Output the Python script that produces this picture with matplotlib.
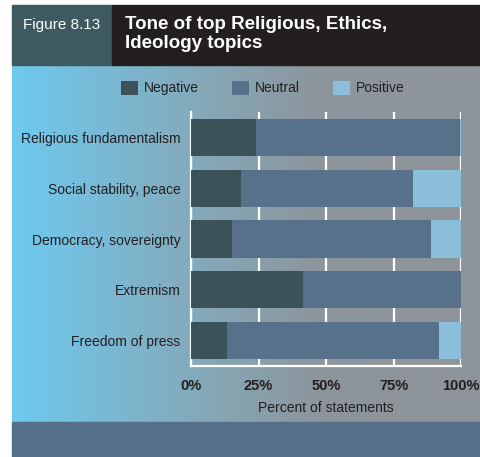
import numpy as np
import matplotlib.pyplot as plt
from matplotlib.patches import Rectangle
from matplotlib.colors import LinearSegmentedColormap

plt.rcParams['font.family'] = ['Liberation Sans', 'DejaVu Sans']

topics = ['Religious fundamentalism', 'Social stability, peace',
          'Democracy, sovereignty', 'Extremism', 'Freedom of press']
negative = [24.0, 18.5, 15.0, 41.5, 13.3]
neutral = [75.5, 63.7, 74.0, 58.5, 78.7]
positive = [0.5, 17.8, 11.0, 0.0, 8.0]
ticks = [0, 25, 50, 75, 100]
tick_labels = ['0%', '25%', '50%', '75%', '100%']

c_neg = '#3b5358'
c_neu = '#567189'
c_pos = '#8bbedb'
dark = '#231f20'

W, H = 480, 457
fig = plt.figure(figsize=(W / 100, H / 100), dpi=100)
fig.patch.set_facecolor('white')

# background panel in pixel coordinates
bg = fig.add_axes([0, 0, 1, 1], zorder=0)
bg.set_xlim(0, W)
bg.set_ylim(H, 0)
bg.axis('off')

grad = LinearSegmentedColormap.from_list(
    'panel', [(0, '#6ec9f0'), (0.4, '#85a9b9'), (0.65, '#8c969d'), (1, '#8f959a')])
bg.imshow(np.linspace(0, 1, 256)[None, :], cmap=grad, aspect='auto',
          extent=(12, W, 422, 65), zorder=0)
bg.add_patch(Rectangle((12, 422), W - 12, H - 422, color='#56708a', zorder=1))
bg.add_patch(Rectangle((12, 5), 100, 60, color='#3c5a5f', zorder=1))
bg.add_patch(Rectangle((112, 5), W - 112, 60, color=dark, zorder=1))
bg.text(23, 25, 'Figure 8.13', color='white', fontsize=11, va='center', zorder=2)
bg.text(125, 34, 'Tone of top Religious, Ethics,\nIdeology topics', color='white',
        fontsize=13.5, fontweight='bold', va='center', linespacing=1.15, zorder=2)

# stacked bar chart
ax = fig.add_axes([191 / W, 1 - 366 / H, 270 / W, 254 / H], zorder=2)
ax.patch.set_alpha(0)
y = np.arange(len(topics))
neg = np.array(negative)
neu = np.array(neutral)
pos = np.array(positive)
b1 = ax.barh(y, neg, height=0.73, color=c_neg, label='Negative', zorder=3)
b2 = ax.barh(y, neu, left=neg, height=0.73, color=c_neu, label='Neutral', zorder=3)
b3 = ax.barh(y, pos, left=neg + neu, height=0.73, color=c_pos, label='Positive', zorder=3)

ax.set_xlim(0, 100)
ax.set_ylim(len(topics) - 0.5, -0.5)
ax.set_yticks(y)
ax.set_yticklabels(topics, fontsize=10, color=dark)
ax.set_xticks(ticks)
ax.set_xticklabels(tick_labels, fontsize=10.5, fontweight='bold', color=dark)
ax.tick_params(length=0)
ax.tick_params(axis='x', pad=9)
ax.tick_params(axis='y', pad=7.5)
ax.grid(axis='x', color='white', linewidth=1.6, zorder=1)
ax.set_axisbelow(True)
for s in ['top', 'right']:
    ax.spines[s].set_visible(False)
for s in ['left', 'bottom']:
    ax.spines[s].set_color('white')
    ax.spines[s].set_linewidth(1.6)
ax.set_xlabel('Percent of statements', fontsize=10, color=dark, labelpad=6)

fig.legend(handles=[b1, b2, b3], loc='center', bbox_to_anchor=(263 / W, 1 - 88 / H),
           ncol=3, frameon=False, fontsize=10, handlelength=1.2, handleheight=1.2,
           handletextpad=0.45, columnspacing=2.4, labelcolor=dark)

fig.savefig('out.png', dpi=100)
